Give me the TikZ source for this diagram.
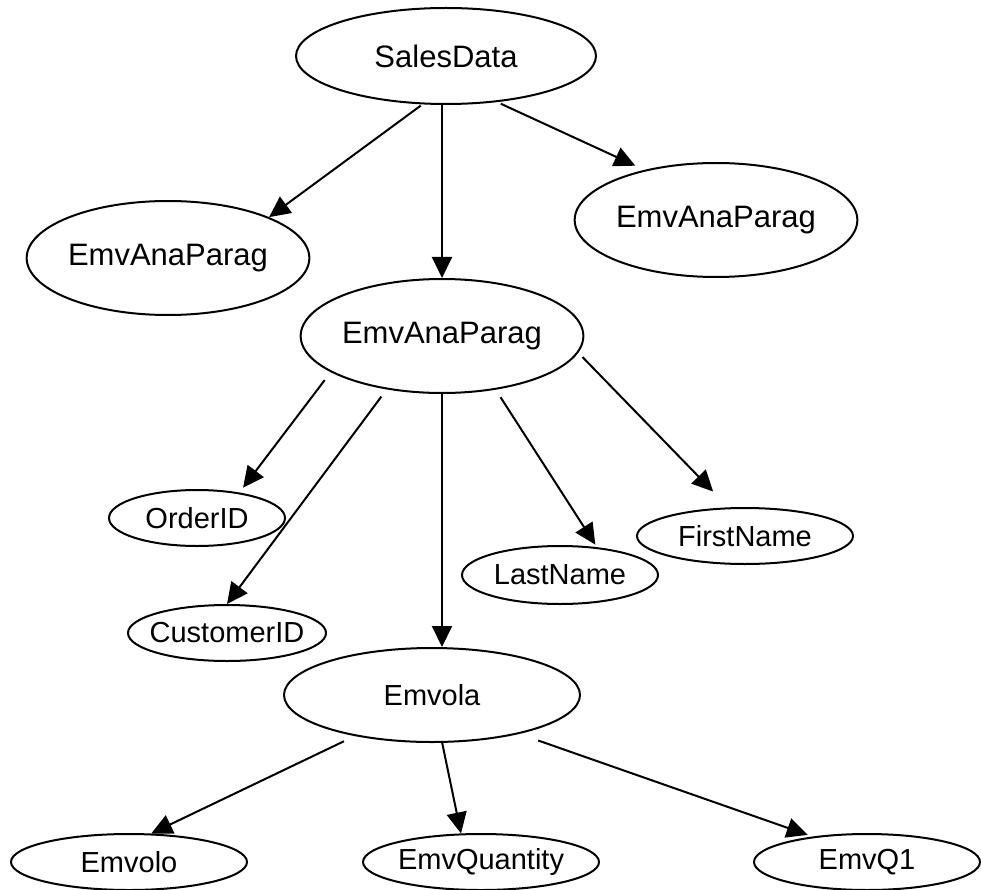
\documentclass[tikz,border=0pt]{standalone}
\usepackage{fontspec}
\setmainfont{Liberation Sans}
\usepackage{tikz}
\usetikzlibrary{arrows.meta,positioning,shapes.geometric}
\tikzset{
 bignode/.style={
 ellipse,
 draw=black,
 line width=2pt,
 inner sep=0pt,
 minimum width=276pt,
 minimum height=114pt,
 font=\fontsize{31}{36}\selectfont
 },
 smallnode/.style={
 ellipse,
 draw=black,
 line width=2pt,
 inner xsep=-8pt,
 inner ysep=0pt,
 minimum height=56pt,
 font=\fontsize{29}{34}\selectfont
 },
 link/.style={-{Triangle[length=21pt, width=20pt]}, line width=2pt}
}

\begin{document}
\begin{tikzpicture}[x=1pt, y=-1pt]
 \useasboundingbox (0,0) rectangle (981,890);
 \node[bignode, minimum width=300pt, minimum height=96pt] (salesdata) at (446,56) {SalesData};
 \node[bignode, below=173pt of salesdata, xshift=-4pt] (paragm) {EmvAnaParag};
 \node[bignode] (paragl) at (168,258) {EmvAnaParag};
 \node[bignode] (paragr) at (716,220) {EmvAnaParag};
 \node[smallnode, minimum width=176pt] (orderid) at (197,518) {OrderID};
 \node[smallnode, minimum width=198pt] (custid) at (227,633) {CustomerID};
 \node[smallnode, minimum width=196pt, minimum height=58pt] (lastname) at (560,575) {LastName};
 \node[smallnode, minimum width=216pt] (firstname) at (745,536) {FirstName};
 \node[bignode, below=253pt of paragm, xshift=-10pt, minimum width=296pt, minimum height=94pt, font=\fontsize{29}{34}\selectfont] (emvola) {Emvola};
 \node[smallnode, minimum width=236pt] (emvolo) at (129,862) {Emvolo};
 \node[smallnode, minimum width=236pt] (quantity) at (481,862) {EmvQuantity};
 \node[smallnode, minimum width=226pt] (q1) at (867,862) {EmvQ1};

 \draw[link, shorten <=2pt] (salesdata.244) -- (paragl.22);
 \draw[link] (paragm.north |- salesdata.south) -- (paragm.north);
 \draw[link, shorten <=4pt, shorten >=10pt] (salesdata.318) -- (paragr.145);
 \draw[link, shorten <=10pt, shorten >=6pt] (paragm.198) -- (orderid.31);
 \draw[link, shorten <=9pt] (paragm.224) -- (custid.north);
 \draw[link] (paragm.south) -- (paragm.south |- emvola.north);
 \draw[link, shorten <=9pt, shorten >=3pt] (paragm.315) -- (lastname.37);
 \draw[link, shorten <=6pt, shorten >=22pt] (paragm.353) -- (firstname.120);
 \draw[link, shorten <=12pt] (emvola.208) -- (emvolo.52);
 \draw[link] (emvola.282) -- (quantity.125);
 \draw[link, shorten <=20pt, shorten >=5pt] (emvola.336) -- (q1.155);
\end{tikzpicture}
\end{document}
